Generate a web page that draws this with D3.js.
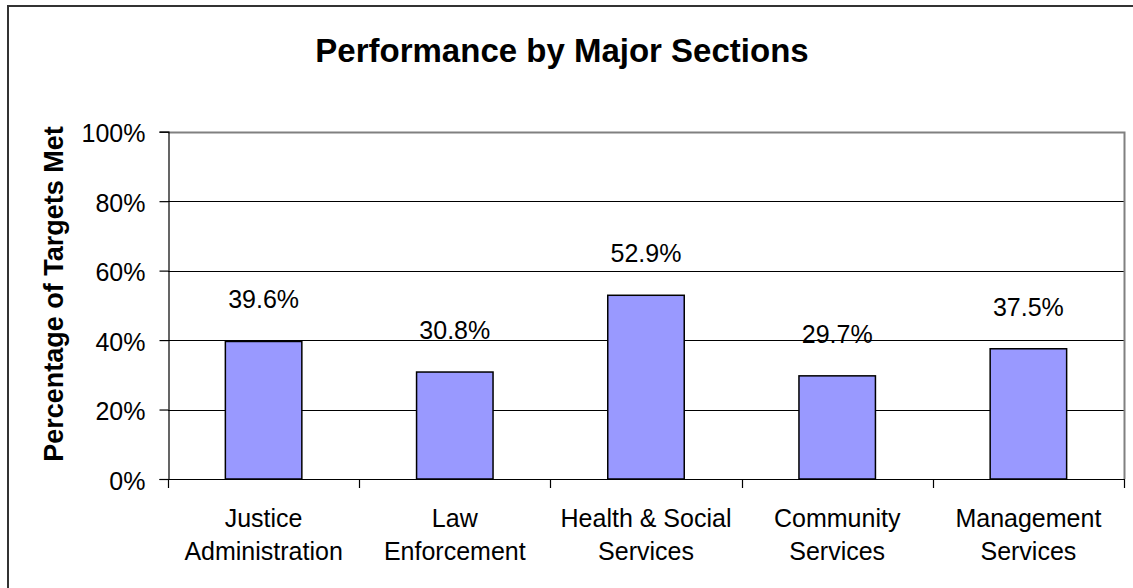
<html>
<head>
	<meta charset='utf-8' />
	<title>Performance by Major Sections</title>
	<script src="https://cdn.jsdelivr.net/npm/d3@7/dist/d3.min.js"></script>
	<style>
	body { margin: 0; background: #fff; overflow: hidden; }
	svg { display: block; }
	text { font-family: "Liberation Sans", Arial, sans-serif; fill: #000; }
	</style>
</head>
<body>
<script>

	// chart data
	var categories = ["Justice Administration", "Law Enforcement", "Health & Social Services", "Community Services", "Management Services"];
	var categoryLines = [["Justice", "Administration"], ["Law", "Enforcement"], ["Health & Social", "Services"], ["Community", "Services"], ["Management", "Services"]];
	var values = [39.6, 30.8, 52.9, 29.7, 37.5];
	var yTicks = [0, 20, 40, 60, 80, 100];

	var width = 1133, height = 588;
	var plot = {left: 168, right: 1124, top: 131.7, bottom: 479};

	var svg = d3.select("body").append("svg")
		.attr("width", width)
		.attr("height", height);

	// outer chart border (right and bottom edges fall outside the picture)
	svg.append("rect")
		.attr("x", 8)
		.attr("y", 6)
		.attr("width", 1200)
		.attr("height", 700)
		.attr("fill", "none")
		.attr("stroke", "#333")
		.attr("stroke-width", 2);

	var xScale = d3.scaleBand()
		.domain(categories)
		.range([plot.left, plot.right])
		.paddingInner(0.6)
		.paddingOuter(0.3);

	var yScale = d3.scaleLinear().domain([0, 100]).range([plot.bottom, plot.top]);

	// gridlines
	svg.append("g").selectAll("line")
		.data(yTicks.filter(d => d > 0 && d < 100))
		.enter().append("line")
		.attr("x1", plot.left)
		.attr("x2", plot.right)
		.attr("y1", d => Math.round(yScale(d)) + 0.5)
		.attr("y2", d => Math.round(yScale(d)) + 0.5)
		.attr("stroke", "#000")
		.attr("stroke-width", 1);

	// plot area top + right border (grey)
	svg.append("path")
		.attr("d", "M" + plot.left + "," + (Math.round(plot.top) + 0.5) + "H" + (plot.right + 0.5) + "V" + plot.bottom)
		.attr("fill", "none")
		.attr("stroke", "#808080")
		.attr("stroke-width", 2);

	// bars
	svg.append("g").selectAll("rect")
		.data(values)
		.enter().append("rect")
		.attr("x", (d, i) => xScale(categories[i]))
		.attr("y", d => yScale(d))
		.attr("width", xScale.bandwidth())
		.attr("height", d => yScale(0) - yScale(d))
		.attr("fill", "#9999FF")
		.attr("stroke", "#000")
		.attr("stroke-width", 1.5);

	// data labels
	svg.append("g").selectAll("text")
		.data(values)
		.enter().append("text")
		.attr("x", (d, i) => xScale(categories[i]) + xScale.bandwidth() / 2)
		.attr("y", d => yScale(d) - 33)
		.attr("text-anchor", "middle")
		.attr("font-size", "25px")
		.text(d => d.toFixed(1) + "%");

	// y axis
	var yAxis = svg.append("g")
		.attr("transform", "translate(" + (plot.left + 0.5) + ",0)")
		.call(d3.axisLeft(yScale).tickValues(yTicks).tickSize(9).tickPadding(14).tickFormat(d => d + "%"));
	yAxis.selectAll("path,line").attr("stroke", "#000").attr("stroke-width", 1.2);
	yAxis.selectAll("text")
		.attr("font-size", "25px")
		.attr("font-family", "Liberation Sans, Arial, sans-serif")
		.attr("fill", "#000")
		.attr("dy", "0.4em");

	// x axis: ticks on category boundaries
	var bounds = categories.map(c => xScale(c) - xScale.step() * xScale.paddingInner() / 2);
	bounds.push(plot.right);
	svg.append("line")
		.attr("x1", plot.left)
		.attr("x2", plot.right)
		.attr("y1", Math.round(plot.bottom) + 0.5)
		.attr("y2", Math.round(plot.bottom) + 0.5)
		.attr("stroke", "#000")
		.attr("stroke-width", 1.2);
	svg.append("g").selectAll("line")
		.data(bounds)
		.enter().append("line")
		.attr("x1", d => Math.round(d) + 0.5)
		.attr("x2", d => Math.round(d) + 0.5)
		.attr("y1", plot.bottom)
		.attr("y2", plot.bottom + 9)
		.attr("stroke", "#000")
		.attr("stroke-width", 1.2);

	var catLabels = svg.append("g").selectAll("text")
		.data(categoryLines)
		.enter().append("text")
		.attr("text-anchor", "middle")
		.attr("font-size", "25px")
		.attr("x", (d, i) => xScale(categories[i]) + xScale.bandwidth() / 2);
	catLabels.selectAll("tspan")
		.data(d => d)
		.enter().append("tspan")
		.attr("x", function() { return d3.select(this.parentNode).attr("x"); })
		.attr("y", (d, j) => 527 + j * 33.3)
		.text(d => d);

	// titles
	svg.append("text")
		.attr("x", 562)
		.attr("y", 62)
		.attr("text-anchor", "middle")
		.attr("font-size", "33px")
		.attr("font-weight", "bold")
		.text("Performance by Major Sections");

	svg.append("text")
		.attr("transform", "translate(63,294) rotate(-90)")
		.attr("text-anchor", "middle")
		.attr("font-size", "27px")
		.attr("font-weight", "bold")
		.text("Percentage of Targets Met");

</script>
</body>
</html>
